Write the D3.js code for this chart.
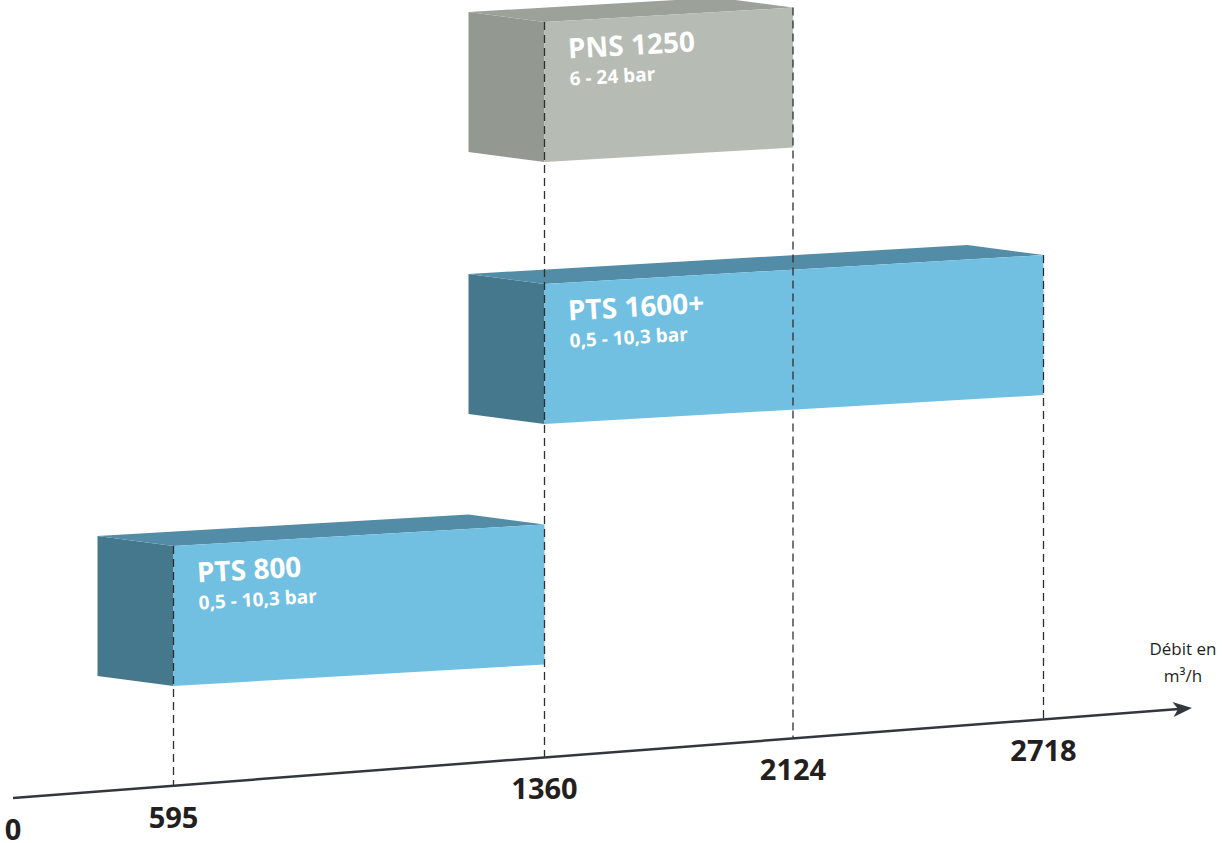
<!DOCTYPE html>
<html>
<head>
<meta charset="utf-8">
<script src="https://cdn.jsdelivr.net/npm/d3@7"></script>
<style>
  html, body { margin: 0; padding: 0; background: #fff; }
  svg { display: block; font-family: "Open Sans", "Noto Sans", sans-serif; }
</style>
</head>
<body>
<svg id="svg" width="1223" height="843"></svg>
<script>
// ---- data ----
const models = ["PTS 800", "PTS 1600+", "PNS 1250"];
const pressures = ["0,5 - 10,3 bar", "0,5 - 10,3 bar", "6 - 24 bar"];
const flowMin = [595, 1360, 1360];
const flowMax = [1360, 2718, 2124];
const families = ["PTS", "PTS", "PNS"];
const tickValues = [0, 595, 1360, 2124, 2718];
const axisTitle = ["Débit en", "m³/h"];

const bars = models.map((m, i) => ({
    model: m, pressure: pressures[i], min: flowMin[i], max: flowMax[i], family: families[i]
}));

// ---- layout ----
const svg = d3.select("#svg");

// the flow axis is not linear in the original, so map each tick piecewise
const x = d3.scaleLinear().domain(tickValues).range([13, 173.5, 544.5, 793, 1043.5]);

const axisEndX = 1192;
const axisY = d3.scaleLinear().domain([x(0), axisEndX]).range([798, 708]);

// bottom of each box's front face, taken at its left edge
const row = d3.scalePoint().domain(models).range([686, 162]);

const faceH = 140;
const slope = -0.058;          // lean of the front faces
const depth = [-76, -10];      // offset of the back edges
const slopeDeg = Math.atan(slope) * 180 / Math.PI;

const colors = {
    PTS: { front: "#71c0e2", top: "#538ca7", side: "#45788c" },
    PNS: { front: "#b6bbb3", top: "#9ca199", side: "#939890" }
};

function bottomAt(d, px) {
    return row(d.model) + slope * (px - x(d.min));
}
function topAt(d, px) {
    return bottomAt(d, px) - faceH;
}
function shift(p) {
    return [p[0] + depth[0], p[1] + depth[1]];
}
const poly = pts => d3.line()(pts) + "Z";

// ---- boxes ----
const box = svg.append("g").selectAll("g.box")
    .data(bars)
    .join("g")
    .attr("class", "box");

box.each(function (d) {
    const g = d3.select(this);
    const x0 = x(d.min), x1 = x(d.max);
    const flb = [x0, bottomAt(d, x0)], flt = [x0, topAt(d, x0)];
    const frb = [x1, bottomAt(d, x1)], frt = [x1, topAt(d, x1)];
    const c = colors[d.family];

    // left side
    g.append("path")
        .attr("d", poly([shift(flt), flt, flb, shift(flb)]))
        .attr("fill", c.side);
    // top
    g.append("path")
        .attr("d", poly([shift(flt), flt, frt, shift(frt)]))
        .attr("fill", c.top);
    // front
    g.append("path")
        .attr("d", poly([flt, frt, frb, flb]))
        .attr("fill", c.front);
});

// ---- dashed guides from the highest box corner down to the axis ----
const guides = tickValues.filter(v => v > 0).map(v => {
    const tops = bars.filter(d => d.min === v || d.max === v).map(d => topAt(d, x(v)));
    return { v: v, top: d3.min(tops) };
});

svg.append("g").selectAll("line")
    .data(guides)
    .join("line")
    .attr("x1", d => x(d.v))
    .attr("x2", d => x(d.v))
    .attr("y1", d => d.top)
    .attr("y2", d => axisY(x(d.v)))
    .attr("stroke", "#2e2e2e")
    .attr("stroke-width", 1.3)
    .attr("stroke-dasharray", "8,5");

// ---- labels on boxes ----
const lab = svg.append("g").selectAll("g.lab")
    .data(bars)
    .join("g")
    .attr("class", "lab")
    .attr("transform", d => {
        const px = x(d.min) + 24;
        return "translate(" + px + "," + (topAt(d, px) + 38) + ") rotate(" + slopeDeg + ")";
    });

lab.append("text")
    .attr("fill", "#fff")
    .attr("font-size", 28)
    .attr("font-weight", 700)
    .text(d => d.model);

lab.append("text")
    .attr("y", 27)
    .attr("fill", "#fff")
    .attr("font-size", 19)
    .attr("font-weight", 700)
    .text(d => d.pressure);

// ---- axis ----
const axis = svg.append("g");
const angle = Math.atan2(axisY(axisEndX) - axisY(x(0)), axisEndX - x(0)) * 180 / Math.PI;

axis.append("line")
    .attr("x1", x(0))
    .attr("y1", axisY(x(0)))
    .attr("x2", axisEndX - 10)
    .attr("y2", axisY(axisEndX - 10))
    .attr("stroke", "#33373d")
    .attr("stroke-width", 2.5);

axis.append("path")
    .attr("d", "M0,0 L-19,-7.5 L-14,0 L-19,7.5 Z")
    .attr("transform", "translate(" + axisEndX + "," + axisY(axisEndX) + ") rotate(" + angle + ")")
    .attr("fill", "#33373d");

axis.selectAll("text.tick")
    .data(tickValues)
    .join("text")
    .attr("class", "tick")
    .attr("x", d => x(d))
    .attr("y", d => axisY(x(d)) + 42)
    .attr("text-anchor", "middle")
    .attr("font-size", 29)
    .attr("font-weight", 700)
    .attr("fill", "#231f20")
    .text(d => d)
    .each(function () {
        // keep the first label inside the picture
        const w = this.getComputedTextLength();
        const cx = +d3.select(this).attr("x");
        if (cx < w / 2) d3.select(this).attr("x", w / 2);
    });

axis.selectAll("text.title")
    .data(axisTitle)
    .join("text")
    .attr("class", "title")
    .attr("x", 1183)
    .attr("y", (d, i) => 655 + i * 27)
    .attr("text-anchor", "middle")
    .attr("font-size", 17)
    .attr("fill", "#231f20")
    .text(d => d);
</script>
</body>
</html>
